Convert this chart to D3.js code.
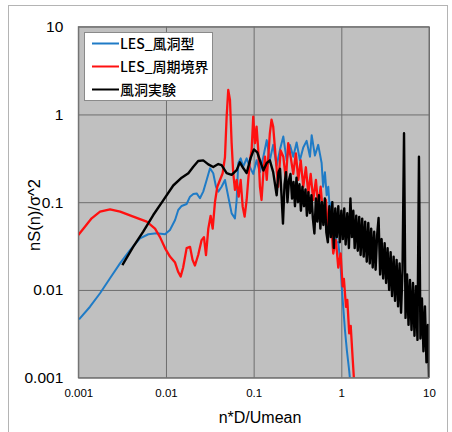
<!DOCTYPE html>
<html>
<head>
<meta charset="utf-8">
<script src="https://cdn.jsdelivr.net/npm/d3@7"></script>
<style>
  body { margin: 0; background: #fff; }
  svg { display: block; }
</style>
</head>
<body>
<div id="chart"></div>
<script>
// Data
var xTicks = [0.001, 0.01, 0.1, 1, 10];
var xTickLabels = ["0.001", "0.01", "0.1", "1", "10"];
var yTicks = [0.001, 0.01, 0.1, 1, 10];
var yTickLabels = ["0.001", "0.01", "0.1", "1", "10"];
var seriesNames = ["LES_風洞型", "LES_周期境界", "風洞実験"];

var blueData = [[0.00102,0.00463],[0.00136,0.00644],[0.00177,0.00917],[0.0023,0.0136],[0.00299,0.0201],
  [0.00389,0.0285],[0.00506,0.0388],[0.00629,0.0431],[0.00783,0.0442],[0.00975,0.0431],[0.0111,0.0482],
  [0.0127,0.0627],[0.0138,0.0815],[0.0151,0.0906],[0.0172,0.0955],[0.0188,0.1156],[0.0205,0.124],
  [0.0224,0.126],[0.0244,0.111],[0.0266,0.132],[0.0291,0.179],[0.0318,0.244],[0.0346,0.214],[0.0372,0.150],
  [0.0395,0.132],[0.0431,0.150],[0.0471,0.179],[0.0513,0.116],[0.0561,0.0746],[0.0612,0.0655],[0.064,0.106],
  [0.0667,0.278],[0.0711,0.316],[0.076,0.254],[0.0832,0.316],[0.0908,0.25],[0.0989,0.21],[0.108,0.30],
  [0.118,0.22],[0.129,0.33],[0.141,0.51],[0.153,0.30],[0.167,0.45],[0.183,0.26],[0.2,0.40],[0.218,0.56],
  [0.238,0.30],[0.259,0.45],[0.283,0.33],[0.309,0.48],[0.337,0.30],[0.368,0.42],[0.402,0.50],[0.439,0.33],
  [0.459,0.58],[0.5,0.34],[0.545,0.45],[0.596,0.28],[0.62,0.15],[0.65,0.22],[0.68,0.12],[0.71,0.15],
  [0.74,0.08],[0.774,0.10],[0.81,0.05],[0.845,0.065],[0.88,0.035],[0.923,0.035],[0.977,0.02],[1.01,0.011],
  [1.05,0.0065],[1.1,0.0035],[1.16,0.002],[1.23,0.0012],[1.25,0.001]];

var redData = [[0.001,0.0423],[0.00119,0.0526],[0.00142,0.0655],[0.00177,0.078],[0.0023,0.083],[0.003,0.078],
  [0.00424,0.0685],[0.00603,0.06],[0.0075,0.05],[0.00855,0.04],[0.00975,0.03],[0.0111,0.024],[0.0127,0.0205],
  [0.0138,0.016],[0.0147,0.0142],[0.0157,0.018],[0.0172,0.03],[0.0188,0.031],[0.0201,0.022],[0.0214,0.019],
  [0.0233,0.025],[0.0255,0.037],[0.0271,0.04],[0.0286,0.025],[0.0304,0.05],[0.0323,0.07],[0.0341,0.05],
  [0.0362,0.10],[0.0385,0.150],[0.0413,0.179],[0.0443,0.214],[0.0471,0.327],[0.0492,0.944],[0.0513,1.90],
  [0.0537,1.46],[0.0561,0.47],[0.0585,0.214],[0.0612,0.138],[0.064,0.179],[0.0675,0.116],[0.0711,0.179],
  [0.075,0.089],[0.0789,0.0685],[0.0832,0.106],[0.0867,0.179],[0.0908,0.30],[0.0949,0.394],[0.0989,0.944],
  [0.1035,0.47],[0.108,0.726],[0.1128,0.394],[0.118,0.150],[0.123,0.106],[0.129,0.214],[0.1346,0.33],
  [0.141,0.18],[0.153,0.61],[0.160,0.87],[0.167,0.73],[0.1795,0.30],[0.1905,0.15],[0.203,0.39],[0.218,0.33],
  [0.233,0.18],[0.248,0.47],[0.264,0.33],[0.283,0.21],[0.303,0.36],[0.323,0.18],[0.344,0.30],[0.368,0.15],
  [0.394,0.25],[0.42,0.126],[0.447,0.21],[0.478,0.106],[0.513,0.18],[0.545,0.089],[0.581,0.15],[0.622,0.0685],
  [0.667,0.106],[0.71,0.044],[0.755,0.0685],[0.809,0.026],[0.867,0.037],[0.923,0.018],[0.982,0.026],
  [1.035,0.011],[1.07,0.0134],[1.13,0.0064],[1.17,0.0077],[1.23,0.0032],[1.28,0.0039],[1.35,0.0016],[1.39,0.001]];

var blackData = [[0.00318,0.0192],[0.00424,0.0311],[0.0055,0.0461],[0.00716,0.0714],[0.0093,0.105],
  [0.0121,0.155],[0.0151,0.19],[0.018,0.214],[0.0205,0.254],[0.0233,0.295],[0.0266,0.30],[0.0304,0.27],
  [0.0346,0.252],[0.0395,0.272],[0.0431,0.265],[0.0492,0.215],[0.0561,0.205],[0.064,0.232],[0.0697,0.285],
  [0.076,0.245],[0.0832,0.215],[0.0925,0.32],[0.1007,0.40],[0.11,0.37],[0.118,0.30],[0.129,0.23],
  [0.141,0.28],[0.153,0.30],[0.167,0.22],[0.183,0.12],[0.192,0.22],
  [0.20,0.24],[0.208,0.12],[0.216,0.057],[0.225,0.16],[0.234,0.22],[0.243,0.10],[0.253,0.18],[0.263,0.21],
  [0.274,0.11],[0.285,0.17],[0.296,0.09],[0.308,0.19],[0.32,0.10],[0.333,0.16],[0.346,0.08],[0.36,0.15],
  [0.375,0.09],[0.39,0.14],[0.405,0.07],[0.421,0.13],[0.438,0.075],[0.456,0.12],[0.474,0.065],[0.493,0.044],
  [0.513,0.11],[0.533,0.06],[0.555,0.12],[0.577,0.05],[0.6,0.10],[0.624,0.055],[0.649,0.11],[0.675,0.045],
  [0.702,0.035],[0.73,0.09],[0.759,0.04],[0.79,0.10],[0.821,0.03],[0.854,0.085],[0.888,0.04],[0.924,0.09],
  [0.961,0.035],[1.0,0.08],[1.04,0.038],[1.08,0.085],[1.12,0.033],[1.17,0.075],[1.22,0.03],[1.27,0.11],
  [1.32,0.04],[1.37,0.08],[1.42,0.03],[1.48,0.07],[1.54,0.028],[1.6,0.068],[1.66,0.025],[1.73,0.065],
  [1.8,0.024],[1.87,0.06],[1.95,0.021],[2.03,0.058],[2.11,0.02],[2.19,0.05],[2.28,0.018],[2.37,0.046],
  [2.46,0.017],[2.56,0.042],[2.66,0.066],[2.77,0.015],[2.88,0.038],[3.0,0.0135],[3.12,0.034],[3.24,0.012],
  [3.37,0.03],[3.51,0.01],[3.65,0.027],[3.79,0.0085],[3.95,0.024],[4.1,0.0075],[4.27,0.022],[4.44,0.0065],
  [4.62,0.02],[4.8,0.0055],[4.99,0.017],[5.19,0.61],[5.4,0.0048],[5.62,0.015],[5.84,0.004],[6.07,0.013],
  [6.32,0.0035],[6.57,0.012],[6.83,0.003],[7.1,0.011],[7.39,0.0027],[7.68,0.33],[7.99,0.0028],[8.31,0.008],
  [8.64,0.002],[8.99,0.0065],[9.35,0.0015],[9.72,0.004],[10.0,0.001]];

var seriesColors = ["#1f7bc6", "#ff1010", "#000000"];
var seriesWidths = [2, 2.3, 2.4];

// Dimensions
var width = 452, height = 432;
var plot = {left: 78.3, right: 429, top: 26.7, bottom: 377.7};

var svg = d3.select('#chart').append('svg')
    .attr('width', width)
    .attr('height', height);

// outer chart frame
svg.append('rect')
    .attr('x', 8.5).attr('y', 5.5)
    .attr('width', 439).attr('height', 440)
    .attr('fill', '#fff')
    .attr('stroke', '#b4b4b4');

var x = d3.scaleLog().domain([0.001, 10]).range([plot.left, plot.right]);
var y = d3.scaleLog().domain([0.001, 10]).range([plot.bottom, plot.top]);

// plot background
svg.append('rect')
    .attr('x', plot.left).attr('y', plot.top)
    .attr('width', plot.right - plot.left)
    .attr('height', plot.bottom - plot.top)
    .attr('fill', '#c0c0c0');

// Grid lines
svg.append('g')
    .attr('transform', 'translate(0,' + plot.bottom + ')')
    .call(d3.axisBottom(x).tickValues(xTicks).tickSize(-(plot.bottom - plot.top)).tickFormat(''))
    .call(g => g.select('.domain').remove())
    .selectAll('line').attr('stroke', '#6e6e6e');

svg.append('g')
    .attr('transform', 'translate(' + plot.left + ',0)')
    .call(d3.axisLeft(y).tickValues(yTicks).tickSize(-(plot.right - plot.left)).tickFormat(''))
    .call(g => g.select('.domain').remove())
    .selectAll('line').attr('stroke', '#6e6e6e');

// Lines
var line = d3.line()
    .x(d => x(d[0]))
    .y(d => y(d[1]));

svg.append('clipPath').attr('id', 'clip')
    .append('rect')
    .attr('x', plot.left).attr('y', plot.top)
    .attr('width', plot.right - plot.left)
    .attr('height', plot.bottom - plot.top);

var lines = svg.append('g').attr('clip-path', 'url(#clip)');
[blueData, redData, blackData].forEach(function(data, i){
    lines.append('path')
        .datum(data)
        .attr('fill', 'none')
        .attr('stroke', seriesColors[i])
        .attr('stroke-width', seriesWidths[i])
        .attr('stroke-linejoin', 'round')
        .attr('d', line);
});

// plot border
svg.append('rect')
    .attr('x', plot.left).attr('y', plot.top)
    .attr('width', plot.right - plot.left)
    .attr('height', plot.bottom - plot.top)
    .attr('fill', 'none')
    .attr('stroke', '#6e6e6e');

// Axes labels
var xAxis = svg.append('g')
    .attr('transform', 'translate(0,' + plot.bottom + ')')
    .call(d3.axisBottom(x).tickValues(xTicks).tickSize(0).tickPadding(11)
        .tickFormat((d, i) => xTickLabels[i]));
xAxis.select('.domain').remove();
xAxis.selectAll('text')
    .attr('font-family', 'Liberation Sans, Arial, sans-serif')
    .attr('font-size', 11.5)
    .attr('fill', '#000');

var yAxis = svg.append('g')
    .attr('transform', 'translate(' + plot.left + ',0)')
    .call(d3.axisLeft(y).tickValues(yTicks).tickSize(0).tickPadding(15)
        .tickFormat((d, i) => yTickLabels[i]));
yAxis.select('.domain').remove();
yAxis.selectAll('text')
    .attr('font-family', 'Liberation Sans, Arial, sans-serif')
    .attr('font-size', 15.5)
    .attr('fill', '#000');

// Axis titles
svg.append('text')
    .attr('x', 260).attr('y', 423)
    .attr('text-anchor', 'middle')
    .attr('font-family', 'Liberation Sans, Arial, sans-serif')
    .attr('font-size', 16)
    .text('n*D/Umean');

svg.append('text')
    .attr('transform', 'translate(40,215) rotate(-90)')
    .attr('text-anchor', 'middle')
    .attr('font-family', 'Liberation Sans, Noto Sans CJK JP, sans-serif')
    .attr('font-size', 16.5)
    .text('nS(n)/σ^2');

// Legend
var legend = svg.append('g');
legend.append('rect')
    .attr('x', 84.5).attr('y', 32.5)
    .attr('width', 128).attr('height', 68)
    .attr('fill', '#fff')
    .attr('stroke', '#8a8a8a');

seriesNames.forEach(function(name, i){
    var ly = 43.5 + i * 23;
    legend.append('line')
        .attr('x1', 92).attr('x2', 119)
        .attr('y1', ly).attr('y2', ly)
        .attr('stroke', seriesColors[i])
        .attr('stroke-width', 2);
    legend.append('text')
        .attr('x', 120).attr('y', ly)
        .attr('dy', '0.36em')
        .attr('font-family', 'Noto Sans CJK JP, sans-serif')
        .attr('font-weight', 500)
        .attr('font-size', 14)
        .text(name);
});
</script>
</body>
</html>
